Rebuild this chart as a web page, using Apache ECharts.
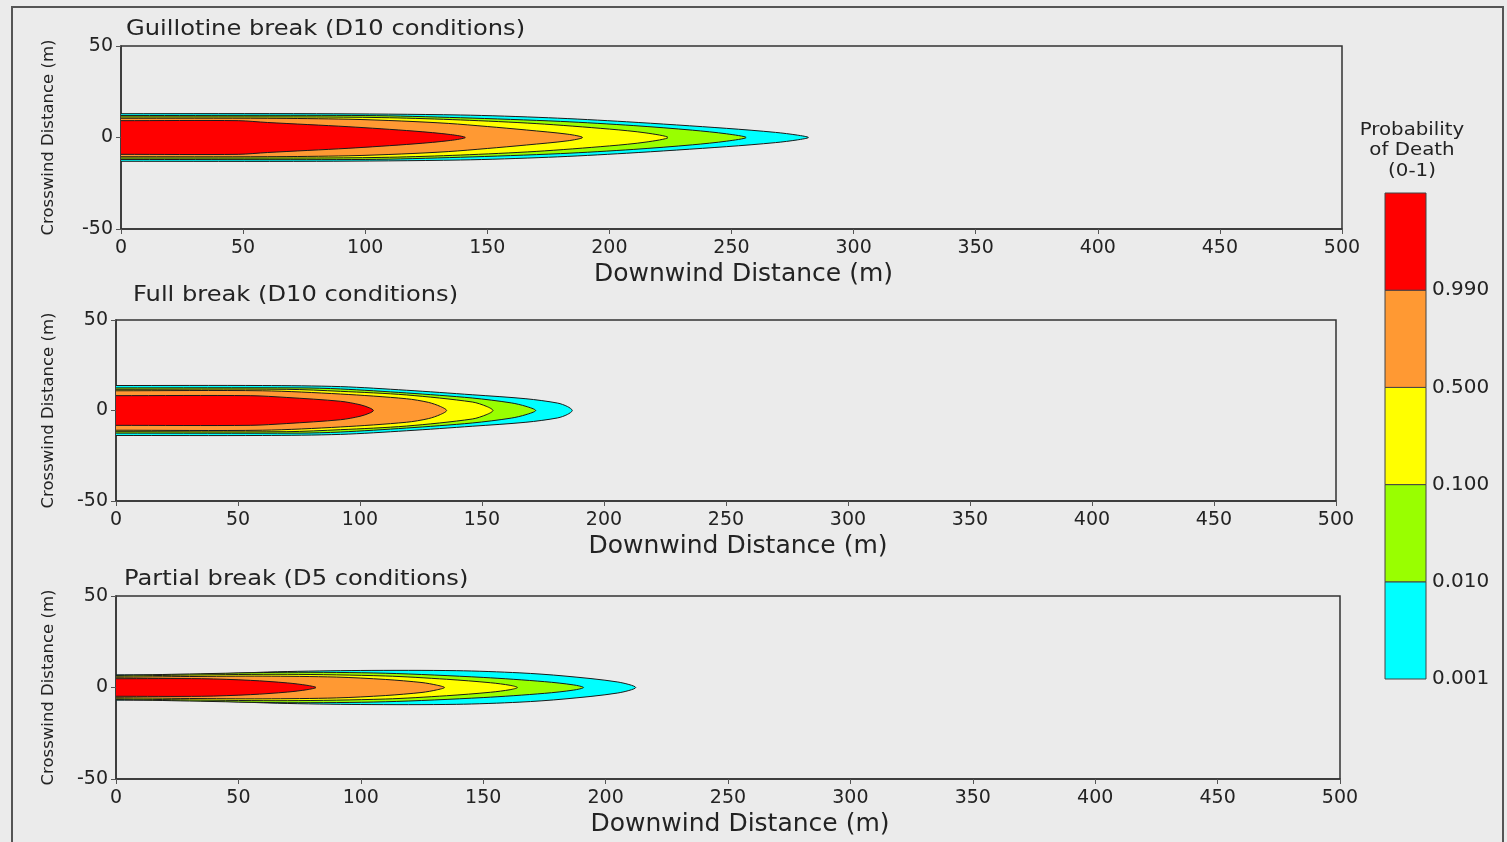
<!DOCTYPE html>
<html>
<head>
<meta charset="utf-8">
<script src="https://cdn.jsdelivr.net/npm/echarts@6/dist/echarts.min.js"></script>
<style>
  html, body { margin: 0; padding: 0; background: #ebebeb; }
  #chart { width: 1507px; height: 842px; }
</style>
</head>
<body>
<div id="chart"></div>
<script>
// contour levels, outer (lowest probability) first
const levelLabels = ['0.001', '0.010', '0.100', '0.500', '0.990'];
const levelColors = ['#00ffff', '#99ff00', '#ffff00', '#ff9933', '#ff0000'];

const panelTitles = [
  'Guillotine break (D10 conditions)',
  'Full break (D10 conditions)',
  'Partial break (D5 conditions)'
];
const xTicks = [0, 50, 100, 150, 200, 250, 300, 350, 400, 450, 500];
const yTicks = [-50, 0, 50];

// upper half-width of each contour: [downwind (m), crosswind (m)]
const guillotine = [
  [[0, 13], [80, 13], [139, 12.3], [175, 10.8], [207, 8.6], [248, 5], [268, 2.8], [277, 1.3], [281.5, 0]],
  [[0, 12], [100, 12], [139, 10.8], [180, 8.8], [210, 6.5], [234, 4], [248, 2], [256, 0]],
  [[0, 11.2], [80, 11.2], [110, 10.8], [139, 9.6], [170, 7.6], [200, 4.6], [215, 2.5], [224, 0]],
  [[0, 10.5], [60, 10.5], [93, 10], [115, 9], [134, 7.7], [150, 6], [166, 4.1], [183, 1.8], [189, 0]],
  [[0, 9.2], [48, 9.2], [60, 8.2], [93, 5.9], [120, 3.5], [135, 1.6], [141, 0]]
];
const fullBreak = [
  [[0, 13.8], [60, 13.8], [92, 13.2], [119, 11.2], [146, 8.7], [168, 6.5], [181, 4.1], [185, 2.2], [187, 0]],
  [[0, 12.5], [75, 12.5], [92, 11.9], [119, 9.7], [146, 6.9], [162, 4.2], [168, 2.3], [172, 0]],
  [[0, 11.7], [70, 11.7], [92, 10.6], [119, 8.6], [146, 4.7], [152, 2.2], [154.5, 0]],
  [[0, 10.9], [60, 10.9], [92, 9.1], [119, 6.5], [128, 4.5], [133, 2.2], [135.5, 0]],
  [[0, 8.2], [55, 8.2], [70, 7.2], [92, 5.1], [100, 3.2], [104, 1.4], [105.5, 0]]
];
const partialBreak = [
  [[0, 6.9], [30, 7], [66, 8.6], [100, 9.3], [139, 9.2], [165, 8], [183, 6.3], [205, 3], [212.3, 0]],
  [[0, 6.6], [30, 7.4], [70, 8.3], [110, 7.8], [150, 5.5], [175, 3.2], [187, 1.4], [191, 0]],
  [[0, 6.2], [30, 6.8], [70, 7.2], [110, 6.3], [135, 4.5], [153, 2.6], [161, 1.2], [164, 0]],
  [[0, 5.6], [30, 6], [60, 6.2], [90, 5.7], [110, 4.4], [125, 2.7], [131, 1.3], [134.2, 0]],
  [[0, 4.8], [35, 4.8], [55, 3.9], [70, 2.5], [78, 1.2], [81.7, 0]]
];
const panels = [guillotine, fullBreak, partialBreak];

const grids = [
  {left: 121, top: 46, width: 1221, height: 183},
  {left: 116, top: 320, width: 1220, height: 181},
  {left: 116, top: 596, width: 1224, height: 183}
];
const titlePos = [[126, 30], [133, 296], [124, 580]];

const font = '"DejaVu Sans", Verdana, sans-serif';
const ink = '#232323';

var myChart = echarts.init(document.getElementById('chart'), null, {renderer: 'canvas'});

function plume(panel, level, profile) {
  // closed outline: upper edge out, lower edge back
  const lower = profile.slice().reverse().filter(p => p[1] !== 0).map(p => [p[0], -p[1]]);
  const pts = profile.concat(lower);
  return {
    type: 'custom',
    xAxisIndex: panel,
    yAxisIndex: panel,
    silent: true,
    clip: true,
    z: 2 + level,
    data: pts,
    renderItem: function (params, api) {
      if (params.dataIndex !== 0) return null;
      const px = pts.map(p => api.coord(p));
      // run the outline a little past the axis so the smoothing keeps a square start
      const first = px[0], last = px[px.length - 1];
      px.unshift([first[0] - 30, first[1]]);
      px.push([last[0] - 30, last[1]]);
      return {
        type: 'polygon',
        shape: {points: px, smooth: 0.3},
        style: {fill: levelColors[level], stroke: '#1a1a1a', lineWidth: 1}
      };
    }
  };
}

const xAxes = [], yAxes = [], series = [];
grids.forEach((g, i) => {
  xAxes.push({
    gridIndex: i, type: 'value', min: xTicks[0], max: xTicks[xTicks.length - 1], interval: 50,
    name: 'Downwind Distance (m)', nameLocation: 'middle', nameGap: 33,
    nameTextStyle: {fontFamily: font, fontSize: 25, color: ink, padding: [0, 0, 0, 24]},
    axisLine: {show: true, onZero: false, lineStyle: {color: '#333', width: 1.5}},
    axisTick: {show: true, length: 5, lineStyle: {color: '#555'}},
    axisLabel: {fontFamily: font, fontSize: 19, color: ink, margin: 10},
    splitLine: {show: false}
  });
  yAxes.push({
    gridIndex: i, type: 'value', min: yTicks[0], max: yTicks[yTicks.length - 1], interval: 50,
    name: 'Crosswind Distance (m)', nameLocation: 'middle', nameRotate: 90,
    nameGap: g.left - 57,
    nameTextStyle: {fontFamily: font, fontSize: 16.5, color: ink},
    axisLine: {show: true, onZero: false, lineStyle: {color: '#333', width: 1.5}},
    axisTick: {show: true, length: 5, lineStyle: {color: '#555'}},
    axisLabel: {fontFamily: font, fontSize: 19, color: ink, margin: 8},
    splitLine: {show: false}
  });
  panels[i].forEach((profile, level) => series.push(plume(i, level, profile)));
});

// colour key
const keyGrid = {left: 1385, top: 193, width: 41, height: 486};
xAxes.push({gridIndex: 3, type: 'value', min: 0, max: 1, show: false});
yAxes.push({
  gridIndex: 3, type: 'value', min: 0, max: 5, interval: 1, position: 'right',
  axisLine: {show: false}, axisTick: {show: false}, splitLine: {show: false},
  axisLabel: {
    fontFamily: font, fontSize: 20, color: ink, margin: 6,
    formatter: v => levelLabels[v] || ''
  }
});
series.push({
  type: 'custom', xAxisIndex: 3, yAxisIndex: 3, silent: true,
  data: levelLabels.map((l, k) => [k]),
  renderItem: function (params, api) {
    const k = api.value(0);
    const a = api.coord([0, k + 1]);
    const b = api.coord([1, k]);
    return {
      type: 'rect',
      shape: {x: a[0], y: a[1], width: b[0] - a[0], height: b[1] - a[1]},
      style: {fill: levelColors[k], stroke: '#444', lineWidth: 1}
    };
  }
});

myChart.setOption({
  backgroundColor: '#ebebeb',
  animation: false,
  grid: grids.map(g => Object.assign({show: true, borderColor: '#333', borderWidth: 1.5, backgroundColor: 'transparent'}, g))
    .concat([Object.assign({show: false}, keyGrid)]),
  xAxis: xAxes,
  yAxis: yAxes,
  series: series,
  graphic: [
    {type: 'rect', shape: {x: 12, y: 7, width: 1491, height: 850}, style: {fill: 'none', stroke: '#555', lineWidth: 2}, silent: true},
    ...panelTitles.map((t, i) => ({
      type: 'text', x: titlePos[i][0], y: titlePos[i][1], scaleX: 1.15,
      style: {text: t, font: '21px ' + font, fill: ink, verticalAlign: 'middle'}
    })),
    {
      type: 'text', x: 1412, y: 120, scaleX: 1.1,
      style: {text: 'Probability\nof Death\n(0-1)', font: '18px ' + font, fill: ink, align: 'center', lineHeight: 20.5}
    }
  ]
});
</script>
</body>
</html>
